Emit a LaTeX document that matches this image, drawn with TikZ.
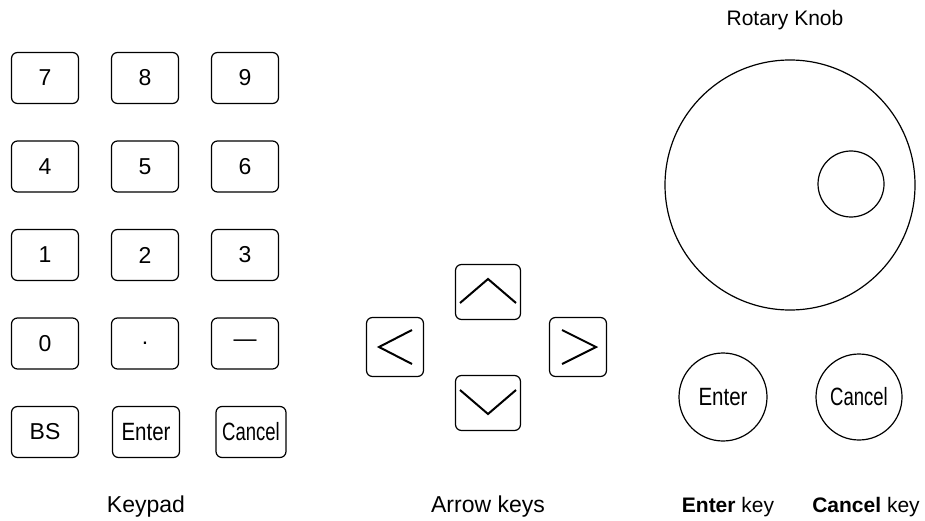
\documentclass[tikz,border=0pt]{standalone}
\usepackage{fontspec}
\setmainfont{Liberation Sans}
\usetikzlibrary{calc}

\begin{document}
\begin{tikzpicture}[
    x=1pt, y=-1pt,
    font=\fontsize{23}{27}\selectfont,
    key/.style={draw, line width=1.2pt, rounded corners=6pt, minimum width=67pt, minimum height=51pt, inner sep=0pt},
    navkey/.style={draw, line width=1.2pt, rounded corners=6pt, inner sep=0pt},
    chevron/.style={line width=2pt},
    roundkey/.style={draw, circle, line width=1.2pt, minimum size=88pt, inner sep=0pt},
    narrow/.style={font=\fontsize{25}{29}\selectfont},
    caption/.style={font=\fontsize{23}{27}\selectfont},
    smallcaption/.style={font=\fontsize{21}{25}\selectfont},
  ]
    \useasboundingbox (0,0) rectangle (925,521);

    % keypad
    \foreach \lbl [count=\i from 0] in {7,8,9,4,5,6,1,2,3,0,.,\textemdash}
      \node[key] (k\i) at ({45+100*mod(\i,3)}, {78+88.5*floor(\i/3)}) {\lbl};
    \node[key] (bs) at (45,432) {BS};
    \node[key, narrow] (padenter) at (146,432) {\scalebox{0.82}[1]{Enter}};
    \node[key, narrow, minimum width=70pt] (padcancel) at (251,432) {\scalebox{0.74}[1]{Cancel}};
    \node[caption] (keypad) at (146,507) {Keypad};

    % arrow keys
    \node[navkey, minimum width=65pt, minimum height=55pt] (up) at (488,292) {};
    \node[navkey, minimum width=65pt, minimum height=55pt] (down) at (488,403) {};
    \node[navkey, minimum width=57pt, minimum height=59pt] (left) at (395,347) {};
    \node[navkey, minimum width=57pt, minimum height=59pt] (right) at (578,347) {};
    \draw[chevron] ($(up)+(-28,11)$) -- ($(up)+(0,-13)$) -- ($(up)+(28,11)$);
    \draw[chevron] ($(down)+(-28,-13)$) -- ($(down)+(0,11)$) -- ($(down)+(28,-13)$);
    \draw[chevron] ($(left)+(17,-17)$) -- ($(left)+(-16,0)$) -- ($(left)+(17,17)$);
    \draw[chevron] ($(right)+(-16,-17)$) -- ($(right)+(18,0)$) -- ($(right)+(-16,17)$);
    \node[caption] (arrowkeys) at (488,507) {Arrow keys};

    % rotary knob
    \node[smallcaption] (knoblabel) at (785,20) {Rotary Knob};
    \node[draw, circle, line width=1.2pt, minimum size=250pt, inner sep=0pt] (knob) at (790,185) {};
    \node[draw, circle, line width=1.2pt, minimum size=66pt, inner sep=0pt] (dimple) at (851,184) {};

    % enter / cancel
    \node[roundkey, narrow] (enter) at (723,397) {\scalebox{0.82}[1]{Enter}};
    \node[roundkey, narrow, minimum size=86pt] (cancel) at (859,397) {\scalebox{0.74}[1]{Cancel}};
    \node[smallcaption] (enterlabel) at (728,507) {\textbf{Enter} key};
    \node[smallcaption] (cancellabel) at (866,507) {\textbf{Cancel} key};
  \end{tikzpicture}
\end{document}
